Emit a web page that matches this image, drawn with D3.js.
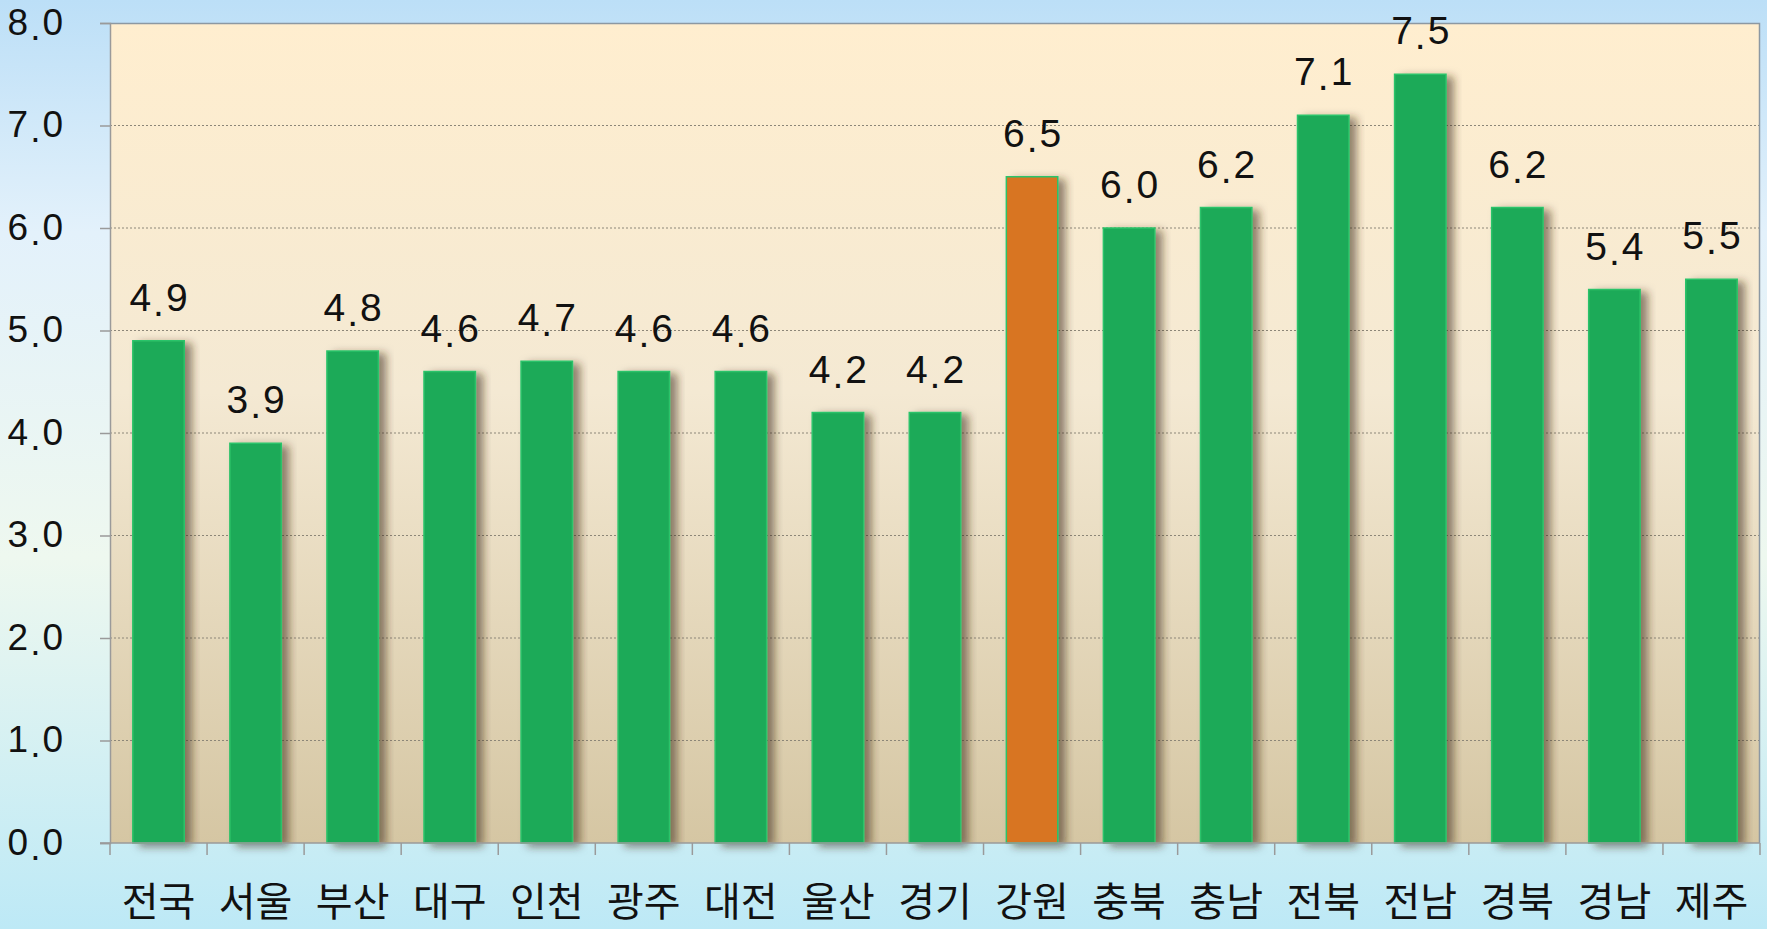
<!DOCTYPE html>
<html>
<head>
<meta charset="utf-8">
<script src="https://cdn.jsdelivr.net/npm/d3@7"></script>
<style>
  html, body { margin: 0; padding: 0; overflow: hidden; }
  svg { display: block; }
  .num { font-family: "Liberation Sans", Arial, sans-serif; font-size: 37px; fill: #111; }
  .val { font-size: 39px; }
  .cat { font-family: "Noto Sans CJK KR", sans-serif; font-size: 40px; fill: #111; }
</style>
</head>
<body>
<div id="chart"></div>
<script>
// regions (시도) and their values
var regions = ["전국", "서울", "부산", "대구", "인천", "광주", "대전", "울산", "경기",
               "강원", "충북", "충남", "전북", "전남", "경북", "경남", "제주"];
var values = [4.9, 3.9, 4.8, 4.6, 4.7, 4.6, 4.6, 4.2, 4.2,
              6.5, 6.0, 6.2, 7.1, 7.5, 6.2, 5.4, 5.5];
var highlight = ["강원"];
var yTicks = [0, 1, 2, 3, 4, 5, 6, 7, 8];

var W = 1767, H = 929;
var margin = { top: 23, right: 7, bottom: 86, left: 110 };
var width = W - margin.left - margin.right,
    height = H - margin.top - margin.bottom;

var svg = d3.select("#chart").append("svg")
    .attr("width", W)
    .attr("height", H);

var defs = svg.append("defs");

// page background
var bg = defs.append("linearGradient").attr("id", "pageBg")
    .attr("x1", 0).attr("y1", 0).attr("x2", 0).attr("y2", 1);
bg.append("stop").attr("offset", "0").attr("stop-color", "#bcdff7");
bg.append("stop").attr("offset", "0.25").attr("stop-color", "#e3f1fb");
bg.append("stop").attr("offset", "0.6").attr("stop-color", "#eef8ef");
bg.append("stop").attr("offset", "1").attr("stop-color", "#bde9f6");

// plot background
var pb = defs.append("linearGradient").attr("id", "plotBg")
    .attr("x1", 0).attr("y1", 0).attr("x2", 0).attr("y2", 1);
pb.append("stop").attr("offset", "0").attr("stop-color", "#ffeecf");
pb.append("stop").attr("offset", "0.45").attr("stop-color", "#f4e9d3");
pb.append("stop").attr("offset", "1").attr("stop-color", "#d5c6a3");

// bar shadow
var sh = defs.append("filter").attr("id", "shadow")
    .attr("x", "-10%").attr("y", "-5%").attr("width", "140%").attr("height", "110%");
sh.append("feDropShadow")
    .attr("dx", 7).attr("dy", 3).attr("stdDeviation", 4)
    .attr("flood-color", "#3a2c10").attr("flood-opacity", 0.55);

svg.append("rect")
    .attr("width", W).attr("height", H)
    .attr("fill", "url(#pageBg)");

var g = svg.append("g")
    .attr("transform", "translate(" + margin.left + "," + margin.top + ")");

var x = d3.scaleBand()
    .domain(regions)
    .range([0, width])
    .paddingInner(0.47)
    .paddingOuter(0.235);

var y = d3.scaleLinear()
    .domain([0, 8])
    .range([height, 0]);

g.append("rect")
    .attr("width", width).attr("height", height)
    .attr("fill", "url(#plotBg)");

// dotted gridlines
g.selectAll(".grid")
    .data(yTicks.filter(function(d) { return d > 0 && d < 8; }))
    .enter().append("line")
      .attr("class", "grid")
      .attr("x1", 0).attr("x2", width)
      .attr("y1", function(d) { return y(d); })
      .attr("y2", function(d) { return y(d); })
      .attr("stroke", "#8c8678")
      .attr("stroke-width", 1)
      .attr("stroke-dasharray", "2,2");

// top + right frame
g.append("path")
    .attr("d", "M0,0.5H" + (width - 0.5) + "V" + height)
    .attr("fill", "none")
    .attr("stroke", "#8c98a2")
    .attr("stroke-width", 1.5);

// bars
g.selectAll(".bar")
    .data(values)
    .enter().append("rect")
      .attr("class", "bar")
      .attr("x", function(d, i) { return x(regions[i]); })
      .attr("y", function(d) { return y(d); })
      .attr("width", x.bandwidth())
      .attr("height", function(d) { return height - y(d); })
      .attr("fill", function(d, i) { return highlight.indexOf(regions[i]) >= 0 ? "#d87420" : "#1eaa58"; })
      .attr("stroke", "#2cc36a")
      .attr("stroke-width", 1.5)
      .attr("filter", "url(#shadow)");

// value labels, period dropped a bit like the original font
function numText(sel, v) {
  var s = v.toFixed(1).split(".");
  sel.append("tspan").text(s[0]);
  sel.append("tspan").attr("dx", 2).attr("dy", 5).text(".");
  sel.append("tspan").attr("dx", 2).attr("dy", -5).text(s[1]);
}

g.selectAll(".val")
    .data(values)
    .enter().append("text")
      .attr("class", "num val")
      .attr("x", function(d, i) { return x(regions[i]) + x.bandwidth() / 2; })
      .attr("y", function(d) { return y(d) - 30; })
      .attr("text-anchor", "middle")
      .each(function(d) { numText(d3.select(this), d); });

// y axis
var yAxis = g.append("g")
    .call(d3.axisLeft(y).tickValues(yTicks).tickSize(10).tickFormat(""));
yAxis.select(".domain").attr("stroke", "#9a9a9a").attr("stroke-width", 1.5);
yAxis.selectAll(".tick line").attr("stroke", "#9a9a9a").attr("stroke-width", 1.5);

yAxis.selectAll(".tick").append("text")
    .attr("class", "num")
    .attr("x", -47)
    .attr("y", 11)
    .attr("text-anchor", "end")
    .attr("fill", "#111")
    .each(function(d) { numText(d3.select(this), d); });

// x axis: ticks at band edges
var edges = regions.map(function(r) { return x(r) - x.step() * x.paddingInner() / 2; });
edges.push(width);
edges[0] = 0;

g.selectAll(".xtick")
    .data(edges)
    .enter().append("line")
      .attr("class", "xtick")
      .attr("x1", function(d) { return d; })
      .attr("x2", function(d) { return d; })
      .attr("y1", height).attr("y2", height + 12)
      .attr("stroke", "#9a9a9a").attr("stroke-width", 1.5);

g.append("line")
    .attr("x1", -10).attr("x2", width)
    .attr("y1", height).attr("y2", height)
    .attr("stroke", "#9a9a9a").attr("stroke-width", 1.5);

g.selectAll(".cat")
    .data(regions)
    .enter().append("text")
      .attr("class", "cat")
      .attr("x", function(d) { return x(d) + x.bandwidth() / 2; })
      .attr("y", height + 73)
      .attr("text-anchor", "middle")
      .text(function(d) { return d; });
</script>
</body>
</html>
